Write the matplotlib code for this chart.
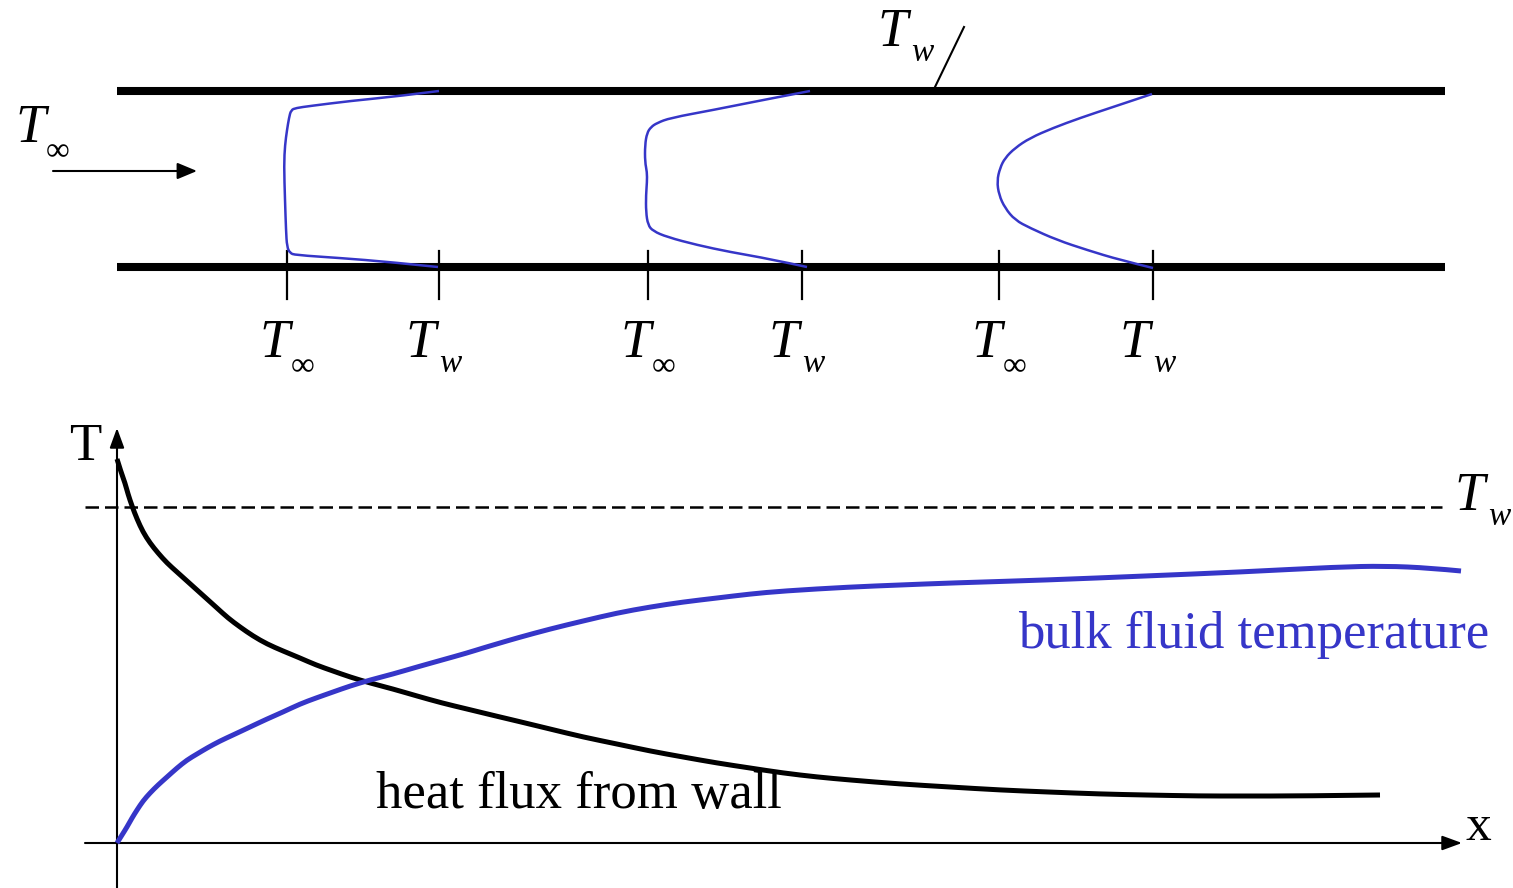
import matplotlib.pyplot as plt
from matplotlib.path import Path
from matplotlib.patches import PathPatch

# 管內溫度剖面 (像素座標, 讀自原圖)
prof1_x = [439, 400, 350, 310, 296, 291, 289, 287, 285, 284, 285, 286, 287, 290, 295, 340, 390, 438]
prof1_y = [91, 96, 101, 106, 108, 110, 118, 130, 145, 165, 200, 230, 247, 253, 255, 258, 262, 267]
prof2_x = [810, 763, 713, 670, 657, 651, 647, 645, 645, 647, 647, 646, 646, 648, 653, 667, 697, 730, 770, 807]
prof2_y = [91, 100, 110, 118, 123, 127, 133, 145, 162, 172, 182, 195, 212, 225, 231, 237, 245, 252, 259, 267]
prof3_x = [1152, 1113, 1080, 1053, 1030, 1015, 1005, 1000, 997, 999, 1005, 1015, 1030, 1057, 1087, 1120, 1153]
prof3_y = [94, 107, 118, 128, 138, 148, 158, 168, 181, 195, 208, 220, 228, 240, 250, 260, 268]
tick_x = [287, 439, 648, 802, 999, 1153]
tick_lab = ['inf', 'w', 'inf', 'w', 'inf', 'w']

# 下方曲線
flux_x = [117, 121, 125, 128, 132, 137, 143, 150, 158, 167, 177, 187, 197, 207, 217, 228, 240, 253,
          267, 283, 300, 316, 333, 350, 370, 393, 417, 442, 467, 500, 517, 550, 583, 617, 650,
          683, 717, 750, 783, 817, 850, 900, 950, 1000, 1048, 1100, 1145, 1200, 1241, 1300, 1380]
flux_y = [459, 472, 483, 494, 506, 519, 532, 543, 553, 563, 572, 581, 590, 599, 608, 618, 627, 636,
          644, 651, 658, 665, 671, 677, 683, 689, 696, 703, 709, 717, 721, 729, 737, 744, 751,
          757, 763, 768, 773, 777, 780, 784, 787, 790, 792, 794, 795, 796, 796, 796, 795]
bulk_x = [117, 122, 127, 132, 137, 143, 150, 158, 167, 177, 187, 197, 207, 220, 233, 250, 267,
          283, 300, 316, 333, 350, 370, 393, 417, 442, 467, 483, 500, 517, 550, 583, 617, 650,
          683, 717, 750, 783, 850, 900, 950, 1048, 1145, 1241, 1337, 1385, 1430, 1461]
bulk_y = [843, 835, 827, 818, 810, 801, 793, 785, 777, 768, 760, 754, 748, 741, 735, 727, 719,
          712, 704, 698, 692, 686, 680, 674, 667, 660, 653, 648, 643, 638, 629, 621, 613, 607,
          602, 598, 594, 591, 587, 585, 583, 580, 576, 572, 567, 566, 568, 571]

blue = '#3636c8'
serif = 'Liberation Serif'


def smooth(ax, xs, ys, **kw):
    # 以中點為曲線點的二次貝茲平滑連線
    pts = list(zip(xs, ys))
    verts = [pts[0]]
    codes = [Path.MOVETO]
    for i in range(1, len(pts) - 1):
        mid = ((pts[i][0] + pts[i + 1][0]) / 2, (pts[i][1] + pts[i + 1][1]) / 2)
        if i == len(pts) - 2:
            mid = pts[-1]
        verts += [pts[i], mid]
        codes += [Path.CURVE3, Path.CURVE3]
    ax.add_patch(PathPatch(Path(verts, codes), fill=False, capstyle='butt', joinstyle='round',
                           zorder=3, **kw))


fig = plt.figure(figsize=(15.13, 8.88), dpi=100)
ax = fig.add_axes([0, 0, 1, 1])
ax.set_xlim(0, 1513)
ax.set_ylim(888, 0)
ax.axis('off')

# 管壁
ax.plot([117, 1445], [91, 91], color='k', lw=5.8, solid_capstyle='butt')
ax.plot([117, 1445], [267, 267], color='k', lw=5.8, solid_capstyle='butt')

for px, py in [(prof1_x, prof1_y), (prof2_x, prof2_y), (prof3_x, prof3_y)]:
    smooth(ax, px, py, edgecolor=blue, lw=1.8)

for tx in tick_x:
    ax.plot([tx, tx], [251, 299], color='k', lw=1.6)


def tlabel(x, y, sub, size=39, subsize=24):
    ax.text(x, y, 'T', fontsize=size, family=serif, style='italic', ha='center', va='baseline')
    if sub == 'inf':
        ax.text(x + 27.5, y + 18, '\u221e', fontsize=subsize, family=serif, ha='center', va='baseline')
    else:
        ax.text(x + 29, y + 15, 'w', fontsize=subsize, family=serif, style='italic',
                ha='center', va='baseline')


for tx, lab in zip(tick_x, tick_lab):
    tlabel(tx - (12 if lab == 'inf' else 18), 357, lab)

tlabel(30.5, 142, 'inf')
tlabel(893, 46, 'w')
tlabel(1470, 510, 'w')

# 入口箭頭
ax.annotate('', xy=(197, 171), xytext=(53, 171),
            arrowprops=dict(arrowstyle='-|>,head_length=0.6,head_width=0.25', mutation_scale=20,
                            lw=1.5, color='k', shrinkA=0, shrinkB=0))
ax.plot([935, 964], [87, 27], color='k', lw=1.5)

# 座標軸
ax.annotate('', xy=(117, 428), xytext=(117, 888),
            arrowprops=dict(arrowstyle='-|>,head_length=0.6,head_width=0.22', mutation_scale=20,
                            lw=1.5, color='k', shrinkA=0, shrinkB=0))
ax.annotate('', xy=(1462, 843), xytext=(85, 843),
            arrowprops=dict(arrowstyle='-|>,head_length=0.6,head_width=0.22', mutation_scale=20,
                            lw=1.5, color='k', shrinkA=0, shrinkB=0))
ax.text(85, 460, 'T', fontsize=38, family=serif, ha='center', va='baseline')
ax.text(1478, 840, 'x', fontsize=37, family=serif, ha='center', va='baseline')

ax.plot([85, 1442], [507, 507], color='k', lw=1.8, ls=(0, (5.4, 2.4)))

smooth(ax, flux_x, flux_y, edgecolor='k', lw=3.6)
smooth(ax, bulk_x, bulk_y, edgecolor=blue, lw=3.6)

ax.text(376, 808, 'heat flux from wall', fontsize=38, family=serif, ha='left', va='baseline')
ax.text(1018, 648, 'bulk fluid temperature', fontsize=38, family=serif, color=blue,
        ha='left', va='baseline')

fig.savefig('out.png', dpi=100)
